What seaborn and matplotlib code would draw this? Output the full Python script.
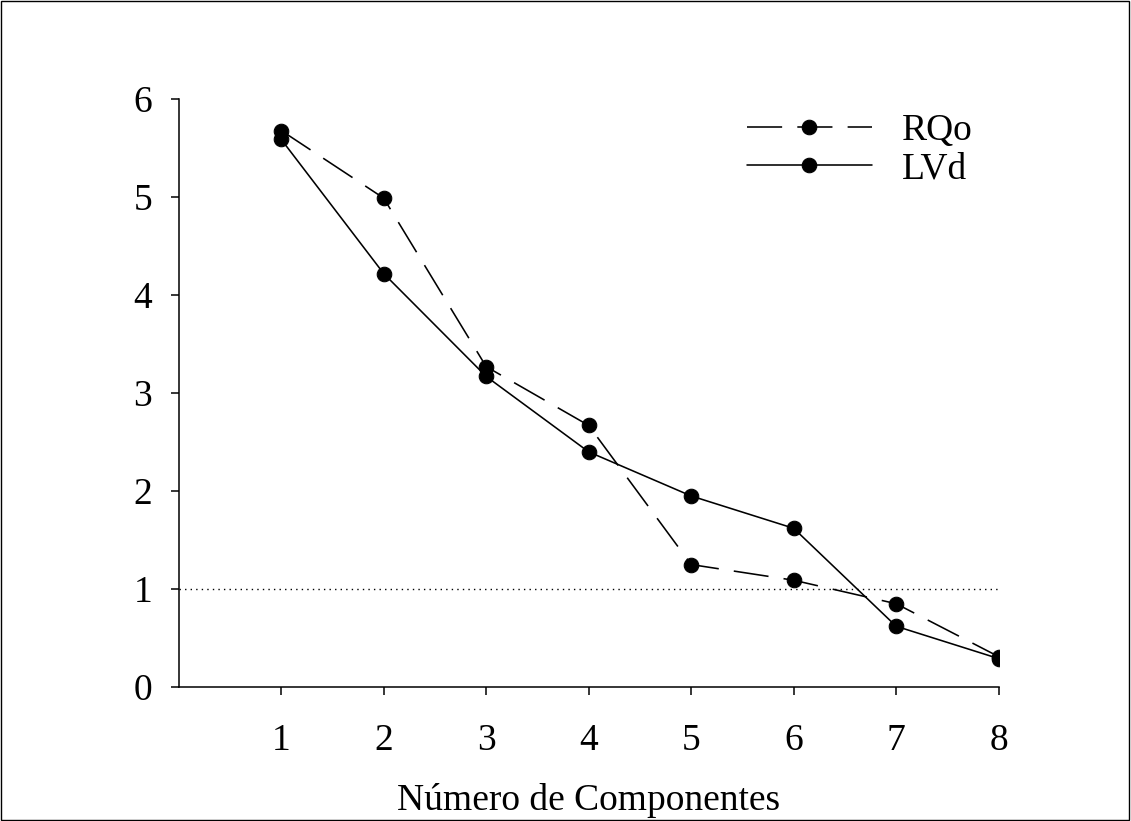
import matplotlib
matplotlib.use("Agg")
import matplotlib.pyplot as plt
import seaborn as sns
import pandas as pd
from matplotlib.patches import Rectangle

components = [1, 2, 3, 4, 5, 6, 7, 8]
rqo = [5.68, 4.99, 3.27, 2.67, 1.25, 1.09, 0.85, 0.31]
lvd = [5.59, 4.22, 3.17, 2.40, 1.95, 1.62, 0.62, 0.29]
series_names = ["RQo", "LVd"]
yticks = [0, 1, 2, 3, 4, 5, 6]
xlabel = "Número de Componentes"
ref_level = 1

sns.set_theme(style="ticks")
plt.rcParams["font.family"] = ["Liberation Serif", "DejaVu Serif"]
plt.rcParams["text.color"] = "black"
plt.rcParams["axes.labelcolor"] = "black"

df = pd.DataFrame({
    "comp": components * 2,
    "val": rqo + lvd,
    "serie": [series_names[0]] * len(rqo) + [series_names[1]] * len(lvd),
})

fig = plt.figure(figsize=(11.31, 8.21), dpi=100)
ax = fig.add_axes([0.158, 0.1632, 0.725, 0.716])

lw = 1.15
ax.hlines(ref_level, 0, 8, colors="black", linestyles=(0, (1, 3)), linewidth=1.0, zorder=1)

sns.lineplot(data=df[df.serie == series_names[0]], x="comp", y="val", ax=ax, color="black",
             linewidth=lw, marker="o", markersize=10.5, markeredgecolor="black",
             linestyle=(0, (22, 9.5)), label=series_names[0], zorder=3)
sns.lineplot(data=df[df.serie == series_names[1]], x="comp", y="val", ax=ax, color="black",
             linewidth=lw, marker="o", markersize=10.5, markeredgecolor="black",
             linestyle="-", label=series_names[1], zorder=3)

ax.set_xlim(0, 8)
ax.set_ylim(0, 6)
ax.set_xticks(components)
ax.set_yticks(yticks)
ax.tick_params(axis="both", direction="out", length=6, width=1.1, colors="black",
               labelsize=27)
ax.tick_params(axis="x", pad=20)
ax.tick_params(axis="y", pad=13)
for s in ["top", "right"]:
    ax.spines[s].set_visible(False)
for s in ["left", "bottom"]:
    ax.spines[s].set_linewidth(1.1)
    ax.spines[s].set_color("black")

ax.set_xlabel(xlabel, fontsize=27, labelpad=18, color="black")
ax.set_ylabel("")

leg = ax.legend(loc="center left", bbox_to_anchor=(747 / 1131, 1 - 150 / 821),
                bbox_transform=fig.transFigure, frameon=False, fontsize=27,
                handlelength=3.33, handletextpad=0.8, labelspacing=0.1,
                borderpad=0, borderaxespad=0, numpoints=1)
for t in leg.get_texts():
    t.set_color("black")

fig.patches.append(Rectangle((0.0005, 0.0007), 0.998, 0.998, transform=fig.transFigure,
                             fill=False, edgecolor="black", linewidth=1.0))

fig.savefig("out.png", dpi=100, facecolor="white")
